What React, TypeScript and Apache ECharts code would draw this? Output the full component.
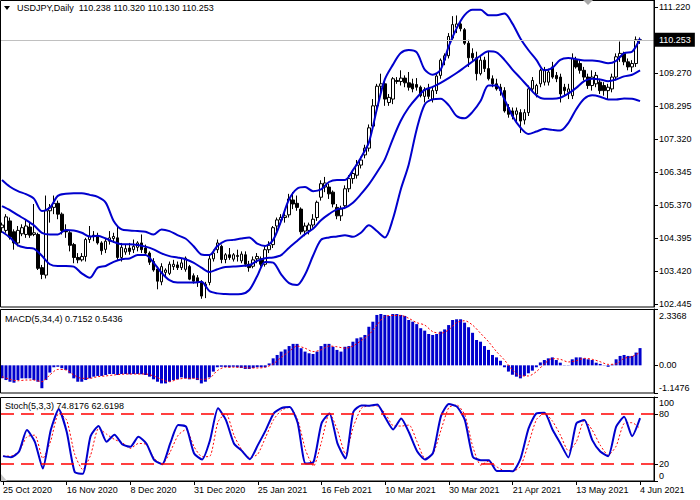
import React, { useEffect, useRef } from "react";
import * as echarts from "echarts";

const FONT = '"Liberation Sans", Arial, sans-serif';

const tickLabels = [
  "25 Oct 2020", "16 Nov 2020", "8 Dec 2020", "31 Dec 2020", "25 Jan 2021", "16 Feb 2021",
  "10 Mar 2021", "30 Mar 2021", "21 Apr 2021", "13 May 2021", "4 Jun 2021",
];
const priceTicks = [102.445, 103.42, 104.395, 105.37, 106.345, 107.32, 108.295, 109.27, 111.22];
const macdTicks = [-1.1476, 0, 2.3368];
const stochTicks = [0, 20, 80, 100];
const stochLevels = [80, 20];
const lastPrice = 110.253;
const titleText = "USDJPY,Daily  110.238 110.320 110.130 110.253";
const macdText = "MACD(5,34,4) 0.7152 0.5436";
const stochText = "Stoch(5,3,3) 74.8176 62.6198";

// [open, high, low, close] per daily bar
const candles = [
  [104.70,104.85,104.55,104.78],[104.62,105.10,104.55,105.02],[104.90,105.00,104.35,104.42],[104.58,104.65,104.05,104.25],
  [104.25,104.75,104.15,104.62],[104.52,104.80,104.45,104.70],[104.50,104.95,104.40,104.75],[104.72,104.85,104.40,104.48],
  [104.50,105.40,104.45,104.55],[104.50,104.55,103.45,103.50],[103.52,103.60,103.18,103.32],[103.30,105.65,103.20,105.20],
  [105.20,105.40,104.85,105.30],[105.30,105.65,105.10,105.42],[105.42,105.50,104.95,105.10],[105.10,105.15,104.50,104.62],
  [104.60,104.80,104.40,104.58],[104.55,104.60,104.00,104.18],[104.20,104.25,103.65,103.82],[103.82,103.95,103.65,103.75],
  [103.75,103.95,103.70,103.85],[103.85,104.40,103.70,104.35],[104.35,104.75,104.25,104.45],[104.48,104.60,104.30,104.45],
  [104.45,104.55,104.20,104.25],[104.25,104.30,103.90,104.02],[104.06,104.40,103.95,104.30],[104.30,104.60,104.20,104.40],
  [104.38,104.55,104.25,104.44],[104.40,104.75,103.75,103.82],[103.82,104.25,103.70,104.12],[103.98,104.20,103.90,104.08],
  [104.10,104.25,103.90,104.00],[104.05,104.35,103.95,104.15],[104.12,104.30,104.00,104.25],[104.25,104.50,103.95,104.05],
  [104.10,104.20,103.90,103.95],[103.95,104.00,103.60,103.68],[103.70,103.80,103.40,103.45],[103.48,103.55,102.88,103.12],
  [103.10,103.65,103.00,103.55],[103.38,103.50,103.25,103.45],[103.35,103.70,103.30,103.62],[103.55,103.75,103.45,103.62],
  [103.60,103.70,103.45,103.52],[103.52,103.80,103.45,103.66],[103.47,103.85,103.40,103.80],[103.55,103.60,103.15,103.18],
  [103.28,103.35,103.05,103.12],[103.22,103.30,102.95,103.10],[103.10,103.15,102.60,102.68],[102.98,103.10,102.62,103.03],
  [103.08,103.90,103.00,103.78],[103.78,104.05,103.70,103.95],[104.05,104.35,103.95,104.25],[104.15,104.20,103.65,103.76],
  [103.76,103.95,103.65,103.90],[103.90,104.10,103.75,103.82],[103.77,103.95,103.70,103.90],[103.85,104.05,103.70,103.88],
  [103.72,104.00,103.65,103.92],[103.90,104.00,103.55,103.62],[103.62,103.72,103.40,103.52],[103.56,103.85,103.50,103.75],
  [103.78,103.95,103.65,103.85],[103.78,103.85,103.55,103.62],[103.62,104.15,103.55,104.05],[104.05,104.30,103.95,104.18],
  [104.20,104.75,104.10,104.70],[104.75,105.00,104.60,104.93],[104.93,105.10,104.80,105.00],[105.00,105.15,104.85,105.05],
  [105.08,105.70,105.00,105.55],[105.52,105.75,105.25,105.40],[105.42,105.65,105.20,105.30],[105.25,105.30,104.50,104.58],
  [104.60,104.85,104.45,104.75],[104.62,104.85,104.50,104.78],[104.78,105.10,104.70,104.95],[105.00,105.50,104.90,105.45],
  [105.60,106.10,105.50,106.00],[105.90,106.20,105.75,106.02],[105.90,106.00,105.55,105.70],[105.75,105.80,105.30,105.40],
  [105.30,105.40,104.95,105.05],[105.05,105.35,104.90,105.25],[105.35,105.95,105.25,105.85],[105.85,106.25,105.75,106.15],
  [106.15,106.40,106.00,106.30],[106.25,106.70,106.15,106.55],[106.55,106.80,106.45,106.70],[106.85,107.15,106.75,107.05],
  [107.05,107.75,106.95,107.65],[107.70,108.50,107.60,108.30],[108.30,108.95,108.15,108.88],[108.88,109.25,108.70,108.95],
  [108.95,109.05,108.30,108.50],[108.40,108.65,108.30,108.55],[108.50,109.15,108.35,109.10],[109.05,109.15,108.95,109.02],
  [109.02,109.35,108.90,109.12],[109.12,109.20,108.85,108.98],[108.98,109.30,108.75,108.85],[108.95,109.10,108.70,108.80],
  [108.93,109.12,108.75,108.85],[108.85,108.90,108.55,108.60],[108.58,108.85,108.40,108.78],[108.82,108.95,108.50,108.58],
  [108.50,108.85,108.40,108.75],[108.75,109.25,108.65,109.18],[109.20,109.70,109.10,109.65],[109.65,109.85,109.50,109.78],
  [109.78,110.45,109.70,110.35],[110.30,110.95,110.25,110.70],[110.62,110.97,110.45,110.72],[110.72,110.80,110.50,110.58],
  [110.55,110.60,110.10,110.15],[110.15,110.25,109.45,109.72],[109.85,110.00,109.60,109.72],[109.72,109.90,109.05,109.25],
  [109.25,109.80,109.20,109.65],[109.65,109.75,109.30,109.40],[109.40,109.90,109.05,109.10],[109.10,109.20,108.85,108.95],
  [108.95,109.10,108.75,108.80],[108.85,108.95,108.60,108.75],[108.75,108.85,108.10,108.15],[108.25,108.35,107.95,108.05],
  [108.15,108.25,107.90,108.00],[108.05,108.25,107.80,108.15],[108.10,108.20,107.50,107.85],[107.88,108.20,107.75,108.10],
  [108.10,108.90,108.00,108.80],[108.80,109.15,108.70,109.05],[108.65,108.95,108.55,108.90],[108.95,109.40,108.85,109.35],
  [109.00,109.45,108.90,109.35],[109.00,109.40,108.90,109.30],[109.45,109.60,109.10,109.15],[109.20,109.30,109.00,109.10],
  [109.15,109.25,108.40,108.65],[108.85,108.95,108.60,108.75],[108.70,108.95,108.50,108.80],[108.60,109.85,108.50,109.70],
  [109.65,109.75,109.40,109.45],[109.55,109.65,109.25,109.35],[109.35,109.45,109.05,109.15],[109.15,109.25,108.80,108.90],
  [108.90,109.35,108.75,109.15],[108.95,109.30,108.85,109.20],[109.00,109.10,108.65,108.75],[108.90,109.00,108.60,108.75],
  [108.75,108.95,108.50,108.85],[108.80,109.25,108.70,109.15],[109.15,109.85,109.05,109.75],[109.75,110.20,109.60,109.85],
  [109.85,109.90,109.50,109.60],[109.60,109.70,109.35,109.45],[109.45,109.65,109.30,109.55],[109.55,110.35,109.45,110.25],
  [110.238,110.320,110.130,110.253],
];

// Bollinger bands, read every second bar (bars 0, 2, 4, ... 160)
const bbUpper = [
  106.11,105.91,105.78,105.69,105.56,105.19,105.29,105.64,105.70,105.72,105.72,105.67,105.61,105.44,104.90,104.65,
  104.62,104.60,104.58,104.50,104.65,104.60,104.48,104.38,104.16,103.91,103.89,104.16,104.31,104.34,104.38,104.41,
  104.23,104.16,104.34,104.90,105.54,105.85,105.90,105.78,105.83,106.05,106.11,106.11,
  106.40,106.77,107.22,108.20,109.08,109.51,109.86,109.95,109.88,109.37,109.22,109.37,110.05,110.59,110.98,111.14,
  111.14,110.98,110.98,111.03,110.73,110.29,109.95,109.66,109.35,109.42,109.66,109.71,109.68,109.64,109.64,109.61,
  109.56,109.63,109.86,109.90,110.29,
];
const bbMiddle = [
  105.34,105.22,105.07,104.93,104.77,104.55,104.50,104.50,104.63,104.62,104.55,104.44,104.46,104.38,104.28,104.21,
  104.21,104.19,104.14,104.06,103.94,103.86,103.82,103.77,103.67,103.52,103.39,103.47,103.54,103.55,103.57,103.59,
  103.72,103.80,103.82,103.89,104.11,104.31,104.51,104.67,104.92,105.10,105.24,105.29,
  105.44,105.69,105.98,106.33,106.72,107.32,107.86,108.25,108.54,108.77,108.86,108.98,109.12,109.27,109.44,109.61,
  109.78,109.91,109.88,109.66,109.37,109.12,108.86,108.61,108.51,108.51,108.54,108.66,108.83,109.03,109.10,109.08,
  109.03,109.08,109.17,109.22,109.35,
];
const bbLower = [
  104.58,104.41,104.18,104.11,104.08,103.87,103.62,103.57,103.57,103.55,103.35,103.22,103.52,103.57,103.69,103.77,
  103.79,103.89,103.89,103.67,103.37,103.15,103.08,103.08,103.08,103.10,102.83,102.76,102.74,102.73,102.74,102.86,
  103.27,103.69,103.67,103.32,103.06,103.01,103.32,103.87,104.34,104.41,104.44,104.48,
  104.43,104.55,104.77,104.60,104.41,104.95,105.83,106.57,107.61,108.34,108.49,108.51,108.32,108.00,107.93,108.12,
  108.44,108.90,108.90,108.49,108.00,107.66,107.47,107.54,107.62,107.59,107.57,107.79,108.20,108.51,108.61,108.57,
  108.49,108.49,108.52,108.51,108.44,
];

// MACD histogram, one value per bar
const macdHist = [
  -0.54,-0.61,-0.68,-0.72,-0.61,-0.54,-0.54,-0.54,-0.61,-0.68,
  -0.95,-0.61,-0.30,-0.08,-0.06,-0.12,-0.19,-0.33,-0.54,-0.68,
  -0.68,-0.61,-0.54,-0.47,-0.44,-0.44,-0.40,-0.36,-0.36,-0.40,
  -0.36,-0.36,-0.37,-0.36,-0.36,-0.37,-0.40,-0.47,-0.58,-0.68,
  -0.75,-0.75,-0.68,-0.61,-0.58,-0.50,-0.54,-0.58,-0.54,-0.61,
  -0.75,-0.68,-0.50,-0.26,-0.08,-0.06,-0.07,-0.08,-0.06,-0.08,
  -0.11,-0.15,-0.15,-0.11,-0.08,-0.08,-0.08,0.08,0.29,0.43,
  0.57,0.66,0.80,0.89,0.89,0.71,0.57,0.50,0.47,0.57,
  0.80,0.89,0.89,0.77,0.64,0.57,0.77,0.80,0.98,1.12,
  1.16,1.26,1.60,1.81,2.09,2.13,2.09,2.05,2.13,2.13,
  2.09,2.05,1.88,1.81,1.71,1.54,1.44,1.30,1.26,1.30,
  1.40,1.49,1.67,1.88,1.91,1.91,1.77,1.58,1.35,1.05,
  0.98,0.80,0.64,0.43,0.33,0.19,-0.08,-0.26,-0.39,-0.47,
  -0.54,-0.44,-0.33,-0.22,-0.08,0.12,0.22,0.29,0.33,0.22,
  0.11,0.01,0.01,0.25,0.33,0.33,0.29,0.25,0.22,0.11,
  0.06,0.01,-0.06,0.03,0.25,0.39,0.43,0.39,0.39,0.53,
  0.7152,
];
// MACD signal, every second bar
const macdSignal = [
  -0.47,-0.58,-0.64,-0.61,-0.61,-0.68,-0.40,-0.17,-0.19,-0.40,-0.54,-0.54,-0.47,-0.44,-0.40,-0.37,
  -0.36,-0.36,-0.36,-0.44,-0.58,-0.68,-0.58,-0.54,-0.54,-0.58,-0.54,-0.22,-0.08,-0.08,-0.08,-0.11,
  -0.11,-0.08,0.06,0.33,0.57,0.80,0.71,0.57,0.64,0.80,0.77,0.71,
  0.80,1.02,1.26,1.67,2.02,2.07,2.07,1.95,1.77,1.67,1.40,1.33,1.47,1.77,1.85,1.67,
  1.33,0.98,0.57,0.22,-0.19,-0.44,-0.44,-0.26,0.06,0.28,0.25,0.14,0.19,0.29,0.25,0.15,
  0.04,0.06,0.29,0.36,0.5436,
];
// Stochastic main and signal, every second bar
const stochMain = [
  29.6,28.4,34.7,60.6,46.7,14.8,60.6,85.3,58.6,10.8,8.5,53.4,65.4,46.7,55.0,43.5,
  40.7,52.6,44.7,24.8,20.0,44.7,66.6,64.6,32.7,25.6,48.7,86.5,72.5,44.7,35.9,26.0,
  42.7,60.6,80.5,86.9,88.0,69.4,20.8,22.8,68.6,80.5,44.7,26.8,
  82.5,90.0,89.6,91.2,75.7,61.4,74.5,57.4,35.5,25.6,33.5,77.3,91.6,88.5,72.5,28.8,
  24.8,24.8,12.0,12.0,11.6,26.8,62.6,80.5,81.3,61.4,44.7,28.0,68.6,72.5,48.7,35.1,
  29.6,64.6,76.5,53.4,74.8,
];
const stochSignal = [
  29.6,29.6,35.1,52.6,54.6,26.8,47.9,80.5,72.5,32.0,13.6,30.7,62.6,55.8,49.5,45.5,
  38.7,44.7,43.5,26.8,20.0,34.7,54.6,61.4,40.7,28.8,29.6,70.5,80.5,54.6,36.7,27.6,
  32.0,52.6,73.3,84.5,87.7,73.3,36.7,17.6,46.7,81.3,60.6,32.0,
  64.6,86.5,89.6,89.3,80.5,65.8,65.4,66.6,46.7,26.8,32.0,60.6,87.7,90.4,78.5,40.7,
  18.8,23.6,16.8,12.0,11.3,17.6,44.7,73.3,80.5,71.3,54.6,35.9,46.7,72.5,60.6,42.7,
  30.7,41.5,68.6,69.4,62.6,
];

const N_CATS = candles.length + 3; // empty space right of the last bar
const LABEL_EVERY = 16;
const cats = Array.from({ length: N_CATS }, (_, i) =>
  i % LABEL_EVERY === 0 && i / LABEL_EVERY < tickLabels.length ? tickLabels[i / LABEL_EVERY] : "b" + i
);
const isLabelIdx = (i: number) => i % LABEL_EVERY === 0 && i / LABEL_EVERY < tickLabels.length;
const every2 = (arr: number[]) => arr.map((v, k) => [2 * k, v]);

const BLUE = "#0000cd";
const RED = "#ff0000";

export default function App() {
  const ref = useRef<HTMLDivElement>(null);
  useEffect(() => {
    if (!ref.current) return;
    const chart = echarts.init(ref.current, undefined, { renderer: "svg" });
    const gridL = -1;
    const gridW = 655;
    const yBase = (gi: number, min: number, max: number, ticks: number[], fmt: (v: number) => string, rich?: any) => ({
      type: "value",
      gridIndex: gi,
      position: "right",
      min,
      max,
      axisLine: { show: true, lineStyle: { color: "#000", width: 1 } },
      axisTick: { show: true, length: 4, customValues: ticks, lineStyle: { color: "#000" } },
      splitLine: { show: false },
      axisLabel: {
        customValues: ticks,
        formatter: fmt,
        color: "#000",
        fontSize: 9,
        fontFamily: FONT,
        margin: 5,
        rich,
      },
    });
    const xBase = (gi: number, show: boolean) => ({
      type: "category",
      gridIndex: gi,
      data: cats,
      boundaryGap: true,
      axisLine: { show, lineStyle: { color: "#000" } },
      axisTick: { show, length: 4, alignWithLabel: true, interval: (i: number) => isLabelIdx(i), lineStyle: { color: "#000" } },
      axisLabel: {
        show,
        interval: (i: number) => isLabelIdx(i),
        align: "left",
        color: "#000",
        fontSize: 9,
        fontFamily: FONT,
        margin: 4,
      },
      splitLine: { show: false },
    });
    const richCommon = { fontSize: 9, fontFamily: FONT, color: "#000" };
    const option: any = {
      animation: false,
      backgroundColor: "#fff",
      grid: [
        { left: gridL, width: gridW, top: 0, height: 307 },
        { left: gridL, width: gridW, top: 309, height: 84 },
        { left: gridL, width: gridW, top: 397, height: 84 },
      ],
      xAxis: [xBase(0, false), xBase(1, false), xBase(2, true)],
      yAxis: [
        yBase(0, 102.357, 111.427, priceTicks, (v: number) => v.toFixed(3)),
        yBase(
          1,
          macdTicks[0],
          macdTicks[2],
          macdTicks,
          (v: number) => (v === 0 ? "0.00" : v > 0 ? "{t|" + v.toFixed(4) + "}" : "{b|" + v.toFixed(4) + "}"),
          { t: { ...richCommon, padding: [13, 0, 0, 0] }, b: { ...richCommon, padding: [0, 0, 11, 0] } }
        ),
        yBase(
          2,
          0,
          100,
          stochTicks,
          (v: number) => (v === 100 ? "{t|100}" : v === 0 ? "{b|0}" : String(v)),
          { t: { ...richCommon, padding: [12, 0, 0, 0] }, b: { ...richCommon, padding: [0, 0, 11, 0] } }
        ),
      ],
      series: [
        {
          type: "candlestick",
          xAxisIndex: 0,
          yAxisIndex: 0,
          barWidth: 3,
          data: candles.map((c) => [c[0], c[3], c[2], c[1]]),
          itemStyle: { color: "#fff", color0: "#000", borderColor: "#000", borderColor0: "#000", borderWidth: 1 },
          markLine: {
            silent: true,
            symbol: ["none", "none"],
            data: [{ yAxis: lastPrice }],
            lineStyle: { color: "#c0c0c0", width: 1, type: "solid" },
            label: {
              show: true,
              position: "end",
              formatter: lastPrice.toFixed(3),
              backgroundColor: "#000",
              color: "#fff",
              padding: [3, 4, 2, 4],
              fontSize: 9,
              fontFamily: FONT,
              distance: 1,
            },
          },
          z: 3,
        },
        ...[bbUpper, bbMiddle, bbLower].map((arr) => ({
          type: "line",
          xAxisIndex: 0,
          yAxisIndex: 0,
          data: every2(arr),
          showSymbol: false,
          smooth: 0.3,
          lineStyle: { color: BLUE, width: 2 },
          z: 4,
        })),
        {
          type: "bar",
          xAxisIndex: 1,
          yAxisIndex: 1,
          barWidth: 3,
          data: macdHist,
          itemStyle: { color: BLUE },
        },
        {
          type: "line",
          xAxisIndex: 1,
          yAxisIndex: 1,
          data: every2(macdSignal),
          showSymbol: false,
          smooth: 0.3,
          lineStyle: { color: RED, width: 1, type: [2, 2] },
          z: 4,
        },
        {
          type: "line",
          xAxisIndex: 2,
          yAxisIndex: 2,
          data: every2(stochMain),
          showSymbol: false,
          smooth: 0.2,
          lineStyle: { color: BLUE, width: 2 },
          z: 4,
          markLine: {
            silent: true,
            symbol: ["none", "none"],
            data: stochLevels.map((v) => ({ yAxis: v })),
            lineStyle: { color: RED, width: 1.5, type: [13, 7] },
            label: { show: false },
          },
        },
        {
          type: "line",
          xAxisIndex: 2,
          yAxisIndex: 2,
          data: every2(stochSignal),
          showSymbol: false,
          smooth: 0.2,
          lineStyle: { color: RED, width: 1, type: [2, 2] },
          z: 3,
        },
      ],
      graphic: [
        { type: "rect", z: 50, shape: { x: 0.5, y: 0.5, width: 653.5, height: 306.5 }, style: { fill: "none", stroke: "#000", lineWidth: 1 } },
        { type: "rect", z: 50, shape: { x: 0.5, y: 309.5, width: 653.5, height: 83.5 }, style: { fill: "none", stroke: "#000", lineWidth: 1 } },
        { type: "rect", z: 50, shape: { x: 0.5, y: 397.5, width: 653.5, height: 83.5 }, style: { fill: "none", stroke: "#000", lineWidth: 1 } },
        { type: "polygon", z: 50, shape: { points: [[4, 6], [10, 6], [7, 10]] }, style: { fill: "#000" } },
        { type: "polygon", z: 50, shape: { points: [[583, 0], [593, 0], [588, 5]] }, style: { fill: "#a8a8a8" } },
        { type: "polygon", z: 50, shape: { points: [[1, 474], [1, 481], [7, 481]] }, style: { fill: "#c8c8c8" } },
        { type: "text", z: 60, style: { text: titleText, x: 17, y: 8, fill: "#000", fontSize: 9, fontFamily: FONT, verticalAlign: "middle" } },
        { type: "text", z: 60, style: { text: macdText, x: 5, y: 319, fill: "#000", fontSize: 9, fontFamily: FONT, verticalAlign: "middle" } },
        { type: "text", z: 60, style: { text: stochText, x: 5, y: 406, fill: "#000", fontSize: 9, fontFamily: FONT, verticalAlign: "middle" } },
      ],
    };
    chart.setOption(option);
    return () => chart.dispose();
  }, []);
  return <div ref={ref} style={{ position: "fixed", left: 0, top: 0, width: 700, height: 500, background: "#fff" }} />;
}
